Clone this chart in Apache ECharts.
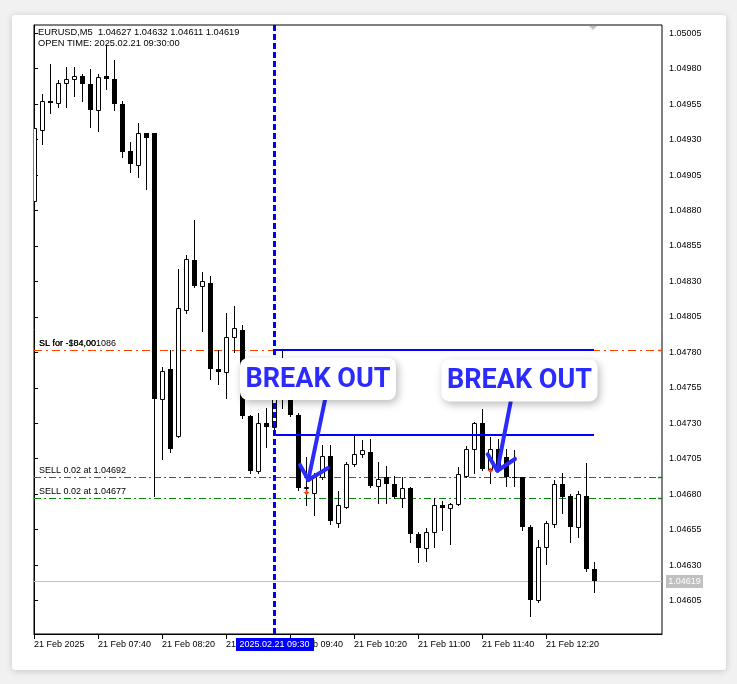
<!DOCTYPE html>
<html><head><meta charset="utf-8">
<script src="https://cdn.jsdelivr.net/npm/echarts@6/dist/echarts.min.js"></script>
<style>
html,body{margin:0;padding:0;background:#f1f1f1;width:737px;height:684px;overflow:hidden}
#card{position:absolute;left:12px;top:15px;width:714px;height:655px;background:#fff;border-radius:3px;box-shadow:0 1px 7px rgba(0,0,0,0.18)}
#chart{position:absolute;left:0;top:0;width:737px;height:684px}
</style></head><body><div id="card"></div><div id="chart"></div>
<script>
// ---- data (EURUSD M5, 21 Feb 2025, from 07:00, one bar per 5 minutes) ----
const opens  = [1.04887,1.04937,1.04957,1.04956,1.04970,1.04973,1.04975,1.04969,1.04951,1.04975,
                1.04973,1.04955,1.04922,1.04912,1.04935,1.04935,1.04747,1.04768,1.04721,1.04810,
                1.04845,1.04827,1.04829,1.04768,1.04766,1.04791,1.04796,1.04735,1.04696,1.04730,
                1.04727,1.04757,1.04750,1.04736,1.04684,1.04681,1.04692,1.04707,1.04660,1.04671,
                1.04701,1.04708,1.04710,1.04686,1.04692,1.04687,1.04677,1.04684,1.04652,1.04642,
                1.04653,1.04672,1.04670,1.04673,1.04693,1.04712,1.04730,1.04698,1.04712,1.04706,
                1.04692,1.04692,1.04657,1.04605,1.04643,1.04659,1.04687,1.04679,1.04657,1.04679,
                1.04627];
const highs  = [1.04940,1.04962,1.04983,1.04972,1.04981,1.04981,1.04976,1.04980,1.04976,1.04997,
                1.04986,1.04957,1.04928,1.04942,1.04935,1.04935,1.04770,1.04782,1.04839,1.04849,
                1.04873,1.04837,1.04834,1.04782,1.04808,1.04813,1.04799,1.04736,1.04737,1.04741,
                1.04753,1.04782,1.04752,1.04737,1.04706,1.04695,1.04715,1.04715,1.04682,1.04703,
                1.04721,1.04718,1.04719,1.04703,1.04700,1.04693,1.04692,1.04685,1.04653,1.04656,
                1.04677,1.04675,1.04674,1.04699,1.04714,1.04731,1.04740,1.04720,1.04719,1.04712,
                1.04711,1.04692,1.04658,1.04648,1.04661,1.04690,1.04695,1.04680,1.04682,1.04702,
                1.04632];
const lows   = [1.04885,1.04927,1.04949,1.04953,1.04953,1.04961,1.04957,1.04939,1.04936,1.04966,
                1.04951,1.04918,1.04907,1.04904,1.04895,1.04679,1.04705,1.04710,1.04720,1.04808,
                1.04826,1.04795,1.04761,1.04758,1.04748,1.04780,1.04734,1.04695,1.04695,1.04713,
                1.04726,1.04741,1.04735,1.04683,1.04672,1.04665,1.04691,1.04659,1.04657,1.04670,
                1.04700,1.04706,1.04685,1.04674,1.04674,1.04677,1.04671,1.04646,1.04632,1.04633,
                1.04643,1.04655,1.04645,1.04672,1.04692,1.04695,1.04697,1.04688,1.04697,1.04686,
                1.04686,1.04655,1.04594,1.04604,1.04631,1.04657,1.04667,1.04646,1.04650,1.04626,
                1.04611];
const closes = [1.04938,1.04957,1.04956,1.04970,1.04973,1.04975,1.04969,1.04951,1.04974,1.04973,
                1.04955,1.04921,1.04913,1.04935,1.04931,1.04747,1.04767,1.04712,1.04811,1.04846,
                1.04827,1.04830,1.04768,1.04766,1.04791,1.04797,1.04735,1.04696,1.04730,1.04727,
                1.04749,1.04750,1.04736,1.04684,1.04685,1.04692,1.04707,1.04661,1.04672,1.04701,
                1.04708,1.04711,1.04686,1.04691,1.04687,1.04678,1.04684,1.04652,1.04642,1.04653,
                1.04672,1.04670,1.04673,1.04694,1.04712,1.04730,1.04698,1.04712,1.04698,1.04692,
                1.04692,1.04657,1.04605,1.04643,1.04660,1.04687,1.04678,1.04657,1.04680,1.04627,
                1.04619];

// axis ticks
const xTickIdx    = [0, 8, 16, 24, 32, 40, 48, 56, 64];
const xTickLabels = ['21 Feb 2025','21 Feb 07:40','21 Feb 08:20','21 Feb 09:00','21 Feb 09:40',
                     '21 Feb 10:20','21 Feb 11:00','21 Feb 11:40','21 Feb 12:20'];
const yTickValues = [1.04605,1.04630,1.04655,1.04680,1.04705,1.04730,1.04755,1.04780,1.04805,
                     1.04830,1.04855,1.04880,1.04905,1.04930,1.04955,1.04980,1.05005];
const yMin = 1.0458137, yMax = 1.0501085;
const xMin = 0, xMax = 78.5;

// price levels
const lastPrice = 1.04619;
const slLevel = 1.04782;
const slTexts = ['SL for -$84,00', 'SL for -104,001086'];
const sellLevels = [1.04692, 1.04677];
const sellTexts = ['SELL 0.02 at 1.04692', 'SELL 0.02 at 1.04677'];

// cursor + zone
const cursorIdx = 30;
const cursorText = '2025.02.21 09:30';
const headerLine2 = 'OPEN TIME: 2025.02.21 09:30:00';
const zoneStartIdx = 30, zoneEndIdx = 70;
const zoneTop = 1.04782, zoneBottom = 1.04722;

// annotations
const sellMarkIdx   = [34, 57];
const sellMarkPrice = [1.04679, 1.04694];
const arrowStart = [[36.375, 1.047464], [59.59, 1.047452]];
const arrowTip   = [[34.29, 1.046900], [57.91, 1.046965]];
const arrowLeft  = [[33.25, 1.047006], [56.71, 1.047081]];
const arrowRight = [[36.75, 1.046984], [60.125, 1.047048]];
const breakLabels   = ['BREAK OUT', 'BREAK OUT'];
const breakLabelPos = [[35.5, 1.047612], [60.69, 1.047602]];

// ---- build ----
const candleData = opens.map((o, i) => [i, o, closes[i], lows[i], highs[i]]);
const last = opens.length - 1;
const header1 = 'EURUSD,M5  ' + [opens[last], highs[last], lows[last], closes[last]].map(v => v.toFixed(5)).join(' ');

const FONT = 'Liberation Sans, Arial, sans-serif';
const BLUE = '#0000ff';
const ANNO = '#2b2bff';

// level definitions (styles kept apart from values)
const levelValues = [lastPrice, slLevel, sellLevels[0], sellLevels[1]];
const levelStyles = [
  {color: '#c0c0c0', dash: null, texts: [], tag: true, mark: false},
  {color: '#ff4500', dash: [8, 4, 2, 4], texts: slTexts, tag: false, mark: true},
  {color: '#1d7a1d', dash: [7, 3, 2, 3], texts: [sellTexts[0]], tag: false, mark: true},
  {color: '#0a8a0a', dash: [7, 3, 2, 3], texts: [sellTexts[1]], tag: false, mark: true}
];

function renderCandle(params, api) {
  const i = api.value(0), o = api.value(1), c = api.value(2), l = api.value(3), h = api.value(4);
  const pO = api.coord([i, o]), pC = api.coord([i, c]), pL = api.coord([i, l]), pH = api.coord([i, h]);
  const cx = Math.floor(pO[0]) + 0.5;
  const yT = Math.round(Math.min(pO[1], pC[1]));
  const yB = Math.round(Math.max(pO[1], pC[1]));
  const yH = Math.round(pH[1]), yL = Math.round(pL[1]);
  const ch = [{type: 'line', shape: {x1: cx, y1: yH, x2: cx, y2: yL + 1}, style: {stroke: '#000', lineWidth: 1}}];
  if (c > o) {
    ch.push({type: 'rect', shape: {x: cx - 2, y: yT + 0.5, width: 4, height: Math.max(yB - yT, 1)},
             style: {fill: '#fff', stroke: '#000', lineWidth: 1}});
  } else if (c < o) {
    ch.push({type: 'rect', shape: {x: cx - 2.5, y: yT, width: 5, height: Math.max(yB - yT, 1)},
             style: {fill: '#000'}});
  } else {
    ch.push({type: 'line', shape: {x1: cx - 2.5, y1: yT + 0.5, x2: cx + 2.5, y2: yT + 0.5},
             style: {stroke: '#000', lineWidth: 1}});
  }
  return {type: 'group', children: ch};
}

function renderLevel(params, api) {
  const v = api.value(0);
  const st = levelStyles[params.dataIndex];
  const p0 = api.coord([xMin, v]), p1 = api.coord([xMax, v]);
  const y = Math.round(p0[1]) + 0.5;
  const ch = [{type: 'line', shape: {x1: p0[0], y1: y, x2: p1[0], y2: y},
               style: {stroke: st.color, lineWidth: 1, lineDash: st.dash || null}}];
  if (st.mark) {
    ch.push({type: 'line', shape: {x1: p1[0] - 4, y1: y, x2: p1[0], y2: y}, style: {stroke: st.color, lineWidth: 1.5}});
  }
  st.texts.forEach(t => ch.push({type: 'text', x: p0[0] + 5, y: y - 2,
    style: {text: t, font: '9px ' + FONT, fill: '#000', align: 'left', verticalAlign: 'bottom'}}));
  if (st.tag) {
    const txt = v.toFixed(5);
    ch.push({type: 'rect', shape: {x: p1[0] + 4, y: y - 6.5, width: 37, height: 13}, style: {fill: st.color}});
    ch.push({type: 'text', x: p1[0] + 4 + 18.5, y: y + 0.5,
      style: {text: txt, font: '9px ' + FONT, fill: '#fff', align: 'center', verticalAlign: 'middle'}});
  }
  return {type: 'group', children: ch};
}

function renderZone(params, api) {
  const a = api.coord([api.value(0), api.value(2)]), b = api.coord([api.value(1), api.value(2)]);
  const c = api.coord([api.value(0), api.value(3)]), d = api.coord([api.value(1), api.value(3)]);
  const yt = Math.round(a[1]), yb = Math.round(c[1]);
  return {type: 'group', children: [
    {type: 'line', shape: {x1: a[0], y1: yt, x2: b[0], y2: yt}, style: {stroke: BLUE, lineWidth: 2}},
    {type: 'line', shape: {x1: c[0], y1: yb, x2: d[0], y2: yb}, style: {stroke: BLUE, lineWidth: 2}}
  ]};
}

function renderCursor(params, api) {
  const top = api.coord([api.value(0), yMax]), bot = api.coord([api.value(0), yMin]);
  const x = Math.round(top[0]) + 0.5;
  const w = 78, h = 13;
  return {type: 'group', children: [
    {type: 'line', shape: {x1: x, y1: top[1], x2: x, y2: bot[1]}, style: {stroke: BLUE, lineWidth: 3, lineDash: [6, 3]}},
    {type: 'rect', shape: {x: Math.round(x - w / 2), y: bot[1] + 4, width: w, height: h}, style: {fill: BLUE}},
    {type: 'text', x: x, y: bot[1] + 4 + h / 2 + 0.5,
     style: {text: cursorText, font: '9px ' + FONT, fill: '#fff', align: 'center', verticalAlign: 'middle'}}
  ]};
}

function renderSellMark(params, api) {
  const p = api.coord([api.value(0), api.value(1)]);
  const tx = Math.floor(p[0]) + 0.5, ty = Math.round(p[1]);
  const rel = [[-1,-6],[1,-6],[1,-4],[3,-4],[0,-1],[-3,-4],[-1,-4]];
  return {type: 'polygon', shape: {points: rel.map(r => [tx + r[0], ty + r[1]])}, style: {fill: '#e8431e'}};
}

function renderArrow(params, api) {
  const s = api.coord([api.value(0), api.value(1)]);
  const t = api.coord([api.value(2), api.value(3)]);
  const a = api.coord([api.value(4), api.value(5)]);
  const b = api.coord([api.value(6), api.value(7)]);
  return {type: 'group', children: [
    {type: 'line', shape: {x1: s[0], y1: s[1], x2: t[0], y2: t[1]}, style: {stroke: ANNO, lineWidth: 4, lineCap: 'round'}},
    {type: 'polyline', shape: {points: [a, t, b]}, style: {stroke: ANNO, lineWidth: 4, lineCap: 'round', lineJoin: 'round', fill: null}}
  ]};
}

function renderBox(params, api) {
  const p = api.coord([api.value(0), api.value(1)]);
  const w = 156, h = 42;
  return {type: 'group', children: [
    {type: 'rect', shape: {x: p[0] - w / 2, y: p[1] - h / 2, width: w, height: h, r: 8},
     style: {fill: '#fff', shadowBlur: 8, shadowOffsetX: 2, shadowOffsetY: 3, shadowColor: 'rgba(0,0,0,0.28)'}},
    {type: 'text', x: p[0], y: p[1] + 1,
     style: {text: breakLabels[params.dataIndex], font: 'bold 27px Roboto', fill: ANNO, align: 'center', verticalAlign: 'middle'}}
  ]};
}

const chart = echarts.init(document.getElementById('chart'), null, {renderer: 'canvas'});
chart.setOption({
  animation: false,
  backgroundColor: 'transparent',
  grid: {left: 34, right: 75, top: 25, bottom: 50, show: true, borderColor: '#000', borderWidth: 1,
         backgroundColor: 'transparent', containLabel: false, outerBoundsMode: 'none'},
  xAxis: {
    type: 'value', min: xMin, max: xMax, position: 'bottom',
    axisLine: {show: true, lineStyle: {color: '#000', width: 1}},
    axisTick: {show: true, length: 5, lineStyle: {color: '#000'}, customValues: xTickIdx},
    axisLabel: {show: true, customValues: xTickIdx, color: '#000', fontFamily: FONT, fontSize: 9, align: 'left', margin: 6,
                formatter: v => xTickLabels[xTickIdx.indexOf(Math.round(v))] || ''},
    splitLine: {show: false}
  },
  yAxis: {
    type: 'value', min: yMin, max: yMax, position: 'right', scale: true,
    axisLine: {show: true, lineStyle: {color: '#000', width: 1}},
    axisTick: {show: true, length: 4, inside: false, lineStyle: {color: '#000'}, customValues: yTickValues},
    axisLabel: {show: true, customValues: yTickValues, color: '#000', fontFamily: FONT, fontSize: 9, margin: 7,
                formatter: v => Number(v).toFixed(5)},
    splitLine: {show: false}
  },
  graphic: [
    {type: 'text', left: 38, top: 28, z: 100, style: {text: header1, font: '9.3px ' + FONT, fill: '#000'}},
    {type: 'text', left: 38, top: 39, z: 100, style: {text: headerLine2, font: '9.3px ' + FONT, fill: '#000'}},
    {type: 'polygon', z: 100, shape: {points: [[589, 26], [597, 26], [593, 30]]}, style: {fill: '#c4c4c4'}}
  ],
  series: [
    {type: 'custom', name: 'levels', renderItem: renderLevel, z: 1, clip: false,
     data: levelValues.map(v => [v]), encode: {y: 0}},
    {type: 'custom', name: 'candles', renderItem: renderCandle, data: candleData, clip: true,
     encode: {x: 0, y: [1, 2, 3, 4]}, z: 2},
    {type: 'custom', name: 'zone', renderItem: renderZone, z: 3,
     data: [[zoneStartIdx, zoneEndIdx, zoneTop, zoneBottom]], encode: {x: [0, 1], y: [2, 3]}},
    {type: 'custom', name: 'cursor', renderItem: renderCursor, z: 5, clip: false,
     data: [[cursorIdx]], encode: {x: 0}},
    {type: 'custom', name: 'sellMarks', renderItem: renderSellMark, z: 4, clip: true,
     data: sellMarkIdx.map((x, k) => [x, sellMarkPrice[k]]), encode: {x: 0, y: 1}},
    {type: 'custom', name: 'arrows', renderItem: renderArrow, z: 6,
     data: arrowStart.map((s, k) => [s[0], s[1], arrowTip[k][0], arrowTip[k][1], arrowLeft[k][0], arrowLeft[k][1], arrowRight[k][0], arrowRight[k][1]]),
     encode: {x: [0, 2, 4, 6], y: [1, 3, 5, 7]}},
    {type: 'custom', name: 'labels', renderItem: renderBox, z: 10,
     data: breakLabelPos.map(p => [p[0], p[1]]), encode: {x: 0, y: 1}}
  ]
});
</script></body></html>
